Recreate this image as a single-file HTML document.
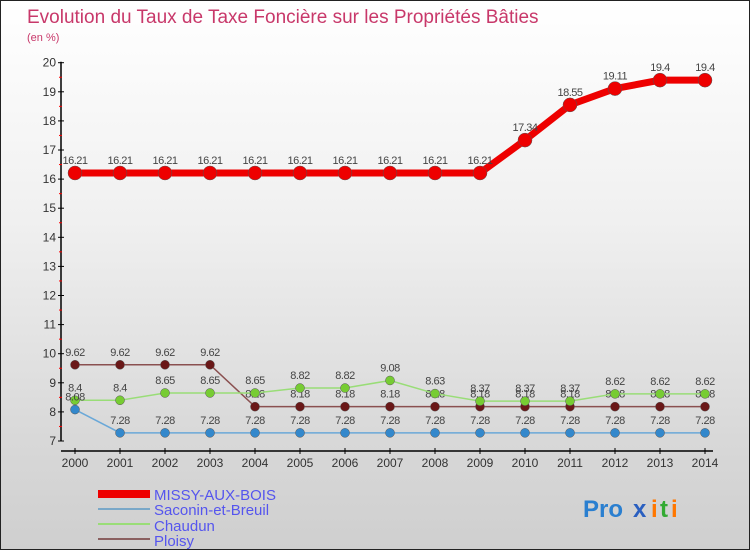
<!DOCTYPE html>
<html><head><meta charset="utf-8"><style>
html,body{margin:0;padding:0}
#wrap{position:relative;width:748px;height:548px;border:1px solid #222;background:linear-gradient(#ffffff 0%,#f0f0f0 40%,#d8d8d8 80%,#cfcfcf 100%);font-family:"Liberation Sans",sans-serif;overflow:hidden}
svg text{font-family:"Liberation Sans",sans-serif}
</style></head><body>
<div id="wrap">
<svg id="chart" width="748" height="548">
<text x="26" y="22" font-size="19" fill="#c8386a">Evolution du Taux de Taxe Foncière sur les Propriétés Bâties</text>
<text x="26" y="40" font-size="11" fill="#c8386a">(en %)</text>
<g id="axes"></g><g id="series"></g>
<g>
<rect x="97" y="489" width="52" height="8" fill="#ee0000"/>
<text x="153" y="499" font-size="15" fill="#5555ee">MISSY-AUX-BOIS</text>
<rect x="97" y="507" width="52" height="2" fill="#7aa8c8"/>
<text x="153" y="514" font-size="15" fill="#5555ee">Saconin-et-Breuil</text>
<rect x="97" y="522" width="52" height="2" fill="#99dd77"/>
<text x="153" y="530" font-size="15" fill="#5555ee">Chaudun</text>
<rect x="97" y="537" width="52" height="2" fill="#8a6060"/>
<text x="153" y="545" font-size="15" fill="#5555ee">Ploisy</text>
</g>
<g font-size="24" font-weight="bold">
<text x="582" y="516" fill="#2a7fd0">Pro</text><text x="632" y="516" fill="#2a5fc0">x</text><text x="650" y="516" fill="#ff7700">i</text><text x="659" y="516" fill="#33aa33">t</text><text x="670" y="516" fill="#ff7700">i</text>
</g>
</svg>
</div>
<script>
const years=[2000,2001,2002,2003,2004,2005,2006,2007,2008,2009,2010,2011,2012,2013,2014];
const yTicks=[7,8,9,10,11,12,13,14,15,16,17,18,19,20];
const missy=[16.21,16.21,16.21,16.21,16.21,16.21,16.21,16.21,16.21,16.21,17.34,18.55,19.11,19.4,19.4];
const saconin=[8.08,7.28,7.28,7.28,7.28,7.28,7.28,7.28,7.28,7.28,7.28,7.28,7.28,7.28,7.28];
const chaudun=[8.4,8.4,8.65,8.65,8.65,8.82,8.82,9.08,8.63,8.37,8.37,8.37,8.62,8.62,8.62];
const ploisy=[9.62,9.62,9.62,9.62,8.18,8.18,8.18,8.18,8.18,8.18,8.18,8.18,8.18,8.18,8.18];
const NS='http://www.w3.org/2000/svg';
const xS=i=>74+i*45;
const yS=v=>440-(v-7)*29.1;
function mk(tag,attrs,parent){const e=document.createElementNS(NS,tag);for(const k in attrs)e.setAttribute(k,attrs[k]);parent.appendChild(e);return e;}
const ax=document.getElementById('axes');
let l=mk('line',{x1:60,y1:yS(20)-1,x2:60,y2:yS(7),stroke:'#000','stroke-width':1.5},ax);


l=mk('line',{x1:60,y1:450,x2:712,y2:450,stroke:'#000','stroke-width':1.5},ax);


yTicks.forEach(v=>{
 mk('line',{x1:57,y1:yS(v),x2:63,y2:yS(v),stroke:'#000'},ax);
 if(v<20)mk('line',{x1:58,y1:yS(v+0.5),x2:61,y2:yS(v+0.5),stroke:'#f00'},ax);
 const t=mk('text',{x:55,y:yS(v)+4,'font-size':12,fill:'#333','text-anchor':'end'},ax);
 t.textContent=v;
 
 
});
years.forEach((y,i)=>{
 mk('line',{x1:xS(i),y1:447,x2:xS(i),y2:453,stroke:'#000'},ax);
 const t=mk('text',{x:xS(i),y:466,'font-size':12,fill:'#333','text-anchor':'middle'},ax);
 t.textContent=y;
 
 
});
const sg=document.getElementById('series');
function draw(name,data,color,dot,w,r){
 const g=mk('g',{},sg);
 
 
 const p=mk('polyline',{points:data.map((v,i)=>xS(i)+','+yS(v)).join(' '),fill:'none',stroke:color,'stroke-width':w},g);
 
 
 data.forEach((v,i)=>{
  const c=mk('circle',{cx:xS(i),cy:yS(v),r:r,fill:dot,stroke:'#555','stroke-width':0.5},g);
  
  
  const t=mk('text',{x:xS(i),y:yS(v)-9,'font-size':11,fill:'#444','text-anchor':'middle','letter-spacing':'-0.5'},g);
  t.textContent=v;
  
  
 });
}
draw('ploisy',ploisy,'#8a5050','#6a1818',1.5,4.5);
draw('chaudun',chaudun,'#99dd77','#77cc33',1.5,4.5);
draw('saconin',saconin,'#6aa8d8','#3388cc',1.5,4.5);
draw('missy',missy,'#ee0000','#ee0000',7,7);
</script>
</body></html>
